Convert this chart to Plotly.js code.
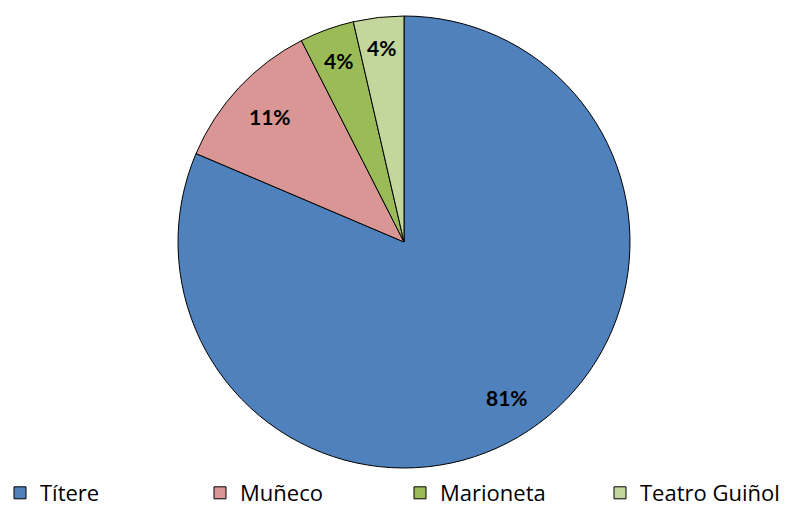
<!DOCTYPE html>
<html>
<head>
<meta charset="utf-8">
<script src="https://cdn.plot.ly/plotly-3.0.1.min.js"></script>
<style>html,body{margin:0;padding:0;background:#fff;}#chart{width:802px;height:509px;}</style>
</head>
<body>
<div id="chart"></div>
<script>
const categories = ["Títere", "Muñeco", "Marioneta", "Teatro Guiñol"];
const values = [81.4, 11.1, 3.9, 3.6];
const colors = ["#4F81BD", "#D99694", "#9BBB59", "#C3D69B"];

const W = 802, H = 509;
const domX = [6 / W, 1];
const domY = [41 / H, 493 / H];

const trace = {
  type: "pie",
  labels: categories,
  values: values,
  sort: false,
  direction: "clockwise",
  rotation: 0,
  domain: { x: domX, y: domY },
  marker: { colors: colors, line: { color: "#000", width: 1 } },
  textinfo: "none",
  hoverinfo: "none"
};

// percentage labels placed along each slice's mid-angle, kept a fixed inset from the rim
const total = values.reduce((a, b) => a + b, 0);
const cxPx = (domX[0] + domX[1]) / 2 * W;
const cyPx = H - (domY[0] + domY[1]) / 2 * H;
const rPx = Math.min((domX[1] - domX[0]) * W, (domY[1] - domY[0]) * H) / 2;
let cum = 0;
const annotations = values.map(v => {
  const mid = (cum + v / 2) / total * 2 * Math.PI;
  cum += v;
  const txt = Math.round(v / total * 100) + "%";
  const halfW = 5.5 + 8.5 * (txt.length - 1), halfH = 10;
  const proj = halfW * Math.abs(Math.sin(mid)) + halfH * Math.abs(Math.cos(mid));
  const labelR = rPx - 19 - proj;
  const px = cxPx + labelR * Math.sin(mid);
  const py = cyPx - labelR * Math.cos(mid);
  return {
    xref: "paper", yref: "paper",
    x: px / W, y: 1 - py / H,
    xanchor: "center", yanchor: "middle",
    text: txt,
    showarrow: false,
    font: { family: "Lato, 'Open Sans', sans-serif", size: 21, color: "#000", weight: "bold" }
  };
});

const layout = {
  width: W, height: H,
  margin: { l: 0, r: 0, t: 0, b: 0, autoexpand: false },
  paper_bgcolor: "#fff",
  showlegend: true,
  annotations: annotations,
  legend: {
    orientation: "h",
    x: 0.0, xanchor: "left",
    y: -5 / H, yanchor: "bottom",
    entrywidth: 155, entrywidthmode: "pixels",
    font: { family: "'Open Sans', sans-serif", size: 22, color: "#000" },
    itemclick: false, itemdoubleclick: false
  }
};

Plotly.newPlot("chart", [trace], layout, { displayModeBar: false, staticPlot: true });
</script>
</body>
</html>
